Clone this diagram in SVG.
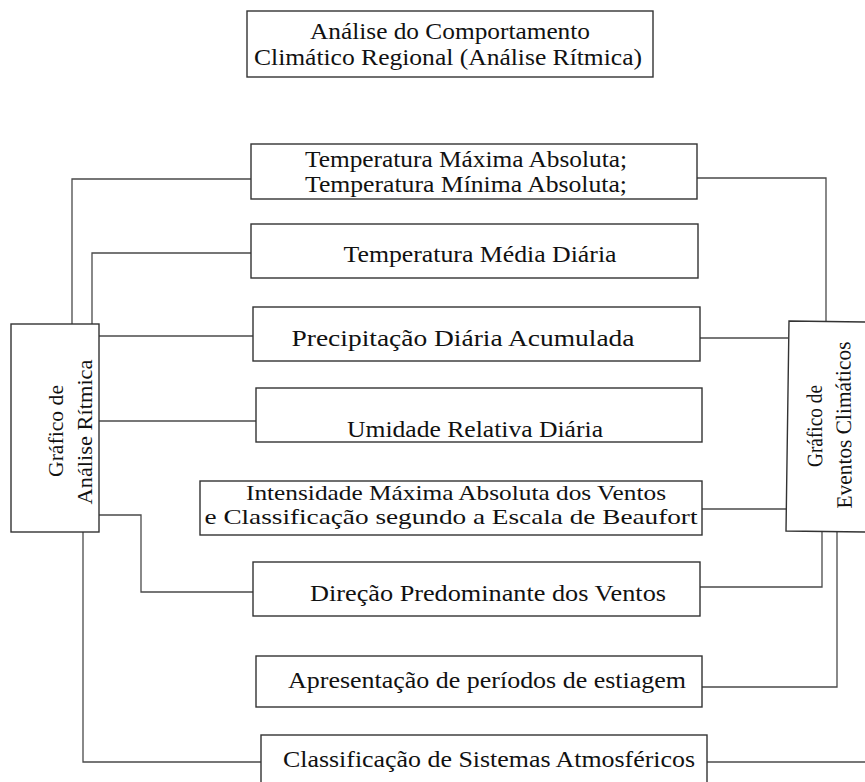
<svg xmlns="http://www.w3.org/2000/svg" width="865" height="782" viewBox="0 0 865 782">
<style>
.box{fill:#fff;stroke:#333;stroke-width:1.4}
.con{fill:none;stroke:#4a4a4a;stroke-width:1.3}
text{font-size:24px;fill:#111;text-anchor:middle}
.v{font-size:22px}
.s{font-size:22px}
</style>
<rect width="865" height="782" fill="#fff"/>
<g id="connectors">
<polyline class="con" points="251,179 72,179 72,324"/>
<polyline class="con" points="251,253 92,253 92,324"/>
<line class="con" x1="99" y1="336" x2="253" y2="336"/>
<line class="con" x1="99" y1="421" x2="256" y2="421"/>
<polyline class="con" points="99,515 141,515 141,592 254,592"/>
<polyline class="con" points="83,532 83,762 261,762"/>
<polyline class="con" points="697,178 826,178 826,321"/>
<line class="con" x1="700" y1="338" x2="788" y2="338"/>
<line class="con" x1="702" y1="509" x2="787" y2="509"/>
<polyline class="con" points="822,531 822,587 700,587"/>
<polyline class="con" points="837,531 837,687 702,687"/>
<line class="con" x1="707" y1="762" x2="865" y2="762"/>
</g>
<g font-family="Liberation Serif, Times New Roman, serif">
<g id="title">
<rect class="box" x="247" y="11" width="406" height="66"/>
<text x="450" y="39" textLength="280" lengthAdjust="spacingAndGlyphs">Análise do Comportamento</text>
<text x="448" y="65" textLength="388" lengthAdjust="spacingAndGlyphs">Climático Regional (Análise Rítmica)</text>
</g>
<g id="temp-max-min">
<rect class="box" x="251" y="144" width="446" height="55"/>
<text x="466" y="167" textLength="322" lengthAdjust="spacingAndGlyphs">Temperatura Máxima Absoluta;</text>
<text x="466" y="192" textLength="322" lengthAdjust="spacingAndGlyphs">Temperatura Mínima Absoluta;</text>
</g>
<g id="temp-media">
<rect class="box" x="251" y="224" width="447" height="54"/>
<text x="480" y="262" textLength="273" lengthAdjust="spacingAndGlyphs">Temperatura Média Diária</text>
</g>
<g id="precipitacao">
<rect class="box" x="253" y="307" width="447" height="54"/>
<text x="463" y="346" textLength="343" lengthAdjust="spacingAndGlyphs">Precipitação Diária Acumulada</text>
</g>
<g id="umidade">
<rect class="box" x="256" y="388" width="446" height="54"/>
<text x="475" y="437" textLength="256" lengthAdjust="spacingAndGlyphs">Umidade Relativa Diária</text>
</g>
<g id="ventos-intensidade">
<rect class="box" x="200" y="481" width="502" height="54"/>
<text class="s" x="456" y="500" textLength="420" lengthAdjust="spacingAndGlyphs">Intensidade Máxima Absoluta dos Ventos</text>
<text class="s" x="451" y="524" textLength="493" lengthAdjust="spacingAndGlyphs">e Classificação segundo a Escala de Beaufort</text>
</g>
<g id="ventos-direcao">
<rect class="box" x="253" y="562" width="447" height="54"/>
<text x="488" y="601" textLength="356" lengthAdjust="spacingAndGlyphs">Direção Predominante dos Ventos</text>
</g>
<g id="estiagem">
<rect class="box" x="256" y="656" width="446" height="51"/>
<text x="487" y="688" textLength="398" lengthAdjust="spacingAndGlyphs">Apresentação de períodos de estiagem</text>
</g>
<g id="sistemas">
<rect class="box" x="261" y="735" width="446" height="60"/>
<text x="489" y="767" textLength="412" lengthAdjust="spacingAndGlyphs">Classificação de Sistemas Atmosféricos</text>
</g>
<g id="grafico-ritmica">
<rect class="box" x="11" y="324" width="88" height="208"/>
<text class="v" transform="translate(63,431) rotate(-90)" textLength="92" lengthAdjust="spacingAndGlyphs">Gráfico de</text>
<text class="v" transform="translate(92,432) rotate(-90)" textLength="145" lengthAdjust="spacingAndGlyphs">Análise Rítmica</text>
</g>
<g id="grafico-eventos">
<polygon class="box" points="789,321 868,322 867,532 786,531"/>
<text class="v" transform="translate(822,426) rotate(-90.5)" textLength="82" lengthAdjust="spacingAndGlyphs">Gráfico de</text>
<text class="v" transform="translate(851,425) rotate(-90.5)" textLength="167" lengthAdjust="spacingAndGlyphs">Eventos Climáticos</text>
</g>
</g>
</svg>
